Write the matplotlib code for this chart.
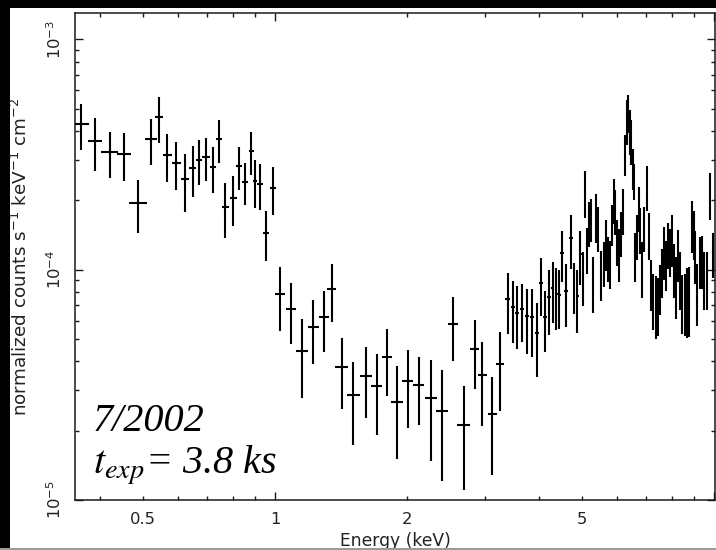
import matplotlib
matplotlib.use("Agg")
import matplotlib.pyplot as plt
from matplotlib.patches import Rectangle
from matplotlib.ticker import LogLocator, FixedLocator, NullFormatter
import numpy as np

# ---- spectrum: bin centre (keV), bin half-width (keV), flux, 1-sigma error ----
energy = [
    0.362, 0.389, 0.420, 0.453, 0.488, 0.522, 0.544, 0.5675, 0.595, 0.624,
    0.650, 0.671, 0.696, 0.722, 0.7455, 0.769, 0.802, 0.828, 0.8545, 0.882,
    0.900, 0.924, 0.954, 0.9895,
    1.027, 1.086, 1.152, 1.221, 1.293, 1.346, 1.419, 1.506, 1.611, 1.705,
    1.797, 1.896, 2.006, 2.123, 2.261, 2.401, 2.544, 2.688, 2.848, 2.962,
    3.121, 3.254,
    3.389, 3.479, 3.558, 3.652, 3.750, 3.843, 3.946, 4.036, 4.121, 4.209,
    4.292, 4.367, 4.436, 4.506, 4.602, 4.724, 4.799, 4.875, 4.953, 5.031,
    5.084, 5.137, 5.192, 5.246, 5.302, 5.386, 5.442, 5.528, 5.616, 5.675,
    5.735, 5.796, 5.857, 5.904, 5.950, 6.013, 6.076, 6.140, 6.204, 6.270,
    6.319, 6.369, 6.419, 6.469, 6.521, 6.556, 6.607, 6.677, 6.730, 6.783,
    6.855, 6.927, 7.038, 7.111, 7.186, 7.262, 7.377, 7.455, 7.534, 7.613,
    7.694, 7.775, 7.856, 7.940, 8.023, 8.108, 8.193, 8.279, 8.367, 8.455,
    8.589, 8.680, 8.772, 8.911, 8.981, 9.051, 9.147, 9.291, 9.390, 9.489,
    9.640, 9.792, 9.947,
]
energy_hw = [
    0.0145, 0.014, 0.019, 0.017, 0.023, 0.016, 0.0114, 0.0134, 0.014, 0.0137,
    0.0119, 0.012, 0.0128, 0.0121, 0.0117, 0.0141, 0.0147, 0.013, 0.0134, 0.0116,
    0.0109, 0.0136, 0.016, 0.0171,
    0.027, 0.0285, 0.036, 0.035, 0.034, 0.032, 0.048, 0.051, 0.051, 0.049,
    0.047, 0.055, 0.058, 0.061, 0.071, 0.076, 0.067, 0.085, 0.067, 0.070,
    0.074, 0.068,
    0.044, 0.040, 0.042, 0.046, 0.047, 0.045, 0.047, 0.043, 0.040, 0.041,
    0.038, 0.035, 0.035, 0.040, 0.050, 0.045, 0.035, 0.038, 0.040, 0.030,
    0.027, 0.027, 0.027, 0.030, 0.035, 0.035, 0.035, 0.040, 0.035, 0.030,
    0.030, 0.030, 0.025, 0.023, 0.025, 0.030, 0.030, 0.030, 0.030, 0.025,
    0.025, 0.025, 0.025, 0.025, 0.025, 0.025, 0.030, 0.030, 0.028, 0.030,
    0.035, 0.040, 0.040, 0.035, 0.035, 0.040, 0.040, 0.040, 0.040, 0.040,
    0.040, 0.040, 0.040, 0.040, 0.040, 0.045, 0.045, 0.045, 0.045, 0.050,
    0.050, 0.045, 0.045, 0.045, 0.040, 0.045, 0.060, 0.060, 0.050, 0.060,
    0.070, 0.060, 0.060,
]
flux = [
    4.28e-4, 3.61e-4, 3.23e-4, 3.17e-4, 1.94e-4, 3.68e-4, 4.59e-4, 3.14e-4, 2.90e-4, 2.47e-4,
    2.76e-4, 2.99e-4, 3.08e-4, 2.78e-4, 3.68e-4, 1.87e-4, 2.04e-4, 2.81e-4, 2.40e-4, 3.27e-4,
    2.42e-4, 2.35e-4, 1.44e-4, 2.26e-4,
    7.83e-5, 6.74e-5, 4.43e-5, 5.63e-5, 6.22e-5, 8.23e-5, 3.78e-5, 2.85e-5, 3.45e-5, 3.12e-5,
    4.17e-5, 2.66e-5, 3.28e-5, 3.15e-5, 2.77e-5, 2.43e-5, 5.80e-5, 2.11e-5, 4.52e-5, 3.48e-5,
    2.36e-5, 3.89e-5,
    7.45e-5, 6.88e-5, 6.48e-5, 6.74e-5, 6.28e-5, 6.22e-5, 5.30e-5, 8.74e-5, 6.22e-5, 7.60e-5,
    8.31e-5, 7.83e-5, 7.75e-5, 1.18e-4, 8.07e-5, 1.37e-4, 8.56e-5, 7.67e-5, 1.167e-4, 9.46e-5,
    2.17e-4, 1.24e-4, 1.61e-4, 1.67e-4, 8.92e-5, 1.72e-4, 1.53e-4, 9.65e-5, 1.078e-4, 1.32e-4,
    1.13e-4, 1.078e-4, 1.59e-4, 2.02e-4, 1.81e-4, 1.34e-4, 1.19e-4, 1.45e-4, 1.83e-4, 3.20e-4,
    4.45e-4, 4.83e-4, 4.03e-4, 3.64e-4, 2.78e-4, 2.44e-4, 1.167e-4, 1.41e-4, 1.87e-4, 1.51e-4,
    1.035e-4, 1.53e-4, 2.30e-4, 1.43e-4, 8.83e-5, 7.52e-5, 7.16e-5, 7.16e-5, 8.40e-5, 9.95e-5,
    1.215e-4, 1.067e-4, 1.30e-4, 1.215e-4, 1.38e-4, 1.025e-4, 8.74e-5, 1.18e-4, 9.28e-5, 7.37e-5,
    7.37e-5, 7.60e-5, 7.67e-5, 1.58e-4, 1.45e-4, 1.167e-4, 8.15e-5, 1.10e-4, 1.11e-4, 9.28e-5,
    9.28e-5, 2.13e-4, 1.18e-4,
]
flux_err = [
    0.97e-4, 0.92e-4, 0.72e-4, 0.75e-4, 0.50e-4, 0.83e-4, 1.03e-4, 0.75e-4, 0.68e-4, 0.70e-4,
    0.69e-4, 0.65e-4, 0.65e-4, 0.62e-4, 0.78e-4, 0.50e-4, 0.50e-4, 0.60e-4, 0.50e-4, 0.70e-4,
    0.56e-4, 0.53e-4, 0.35e-4, 0.54e-4,
    2.4e-5, 2.0e-5, 1.67e-5, 1.74e-5, 1.82e-5, 2.3e-5, 1.29e-5, 1.11e-5, 1.18e-5, 1.2e-5,
    1.34e-5, 1.15e-5, 1.22e-5, 1.04e-5, 1.3e-5, 1.22e-5, 1.8e-5, 1.0e-5, 1.5e-5, 1.38e-5,
    1.07e-5, 1.45e-5,
    2.19e-5, 2.09e-5, 1.97e-5, 1.91e-5, 1.98e-5, 2.03e-5, 1.89e-5, 2.48e-5, 1.83e-5, 2.39e-5,
    2.44e-5, 2.38e-5, 2.20e-5, 2.98e-5, 2.46e-5, 3.60e-5, 2.16e-5, 2.34e-5, 3.10e-5, 2.50e-5,
    5.0e-5, 2.8e-5, 3.6e-5, 3.5e-5, 2.45e-5, 4.2e-5, 3.4e-5, 2.35e-5, 2.4e-5, 3.3e-5,
    2.5e-5, 2.5e-5, 3.2e-5, 4.5e-5, 4.0e-5, 3.0e-5, 3.1e-5, 3.2e-5, 4.1e-5, 6.4e-5,
    9.9e-5, 9.0e-5, 9.0e-5, 8.0e-5, 5.6e-5, 4.4e-5, 2.8e-5, 3.1e-5, 4.2e-5, 3.4e-5,
    2.8e-5, 3.4e-5, 5.1e-5, 3.3e-5, 2.23e-5, 2.05e-5, 2.18e-5, 2.03e-5, 2.03e-5, 2.40e-5,
    3.1e-5, 2.6e-5, 2.9e-5, 2.9e-5, 3.5e-5, 2.7e-5, 2.66e-5, 3.0e-5, 2.63e-5, 2.09e-5,
    2.24e-5, 2.55e-5, 2.57e-5, 4.0e-5, 3.5e-5, 3.0e-5, 2.48e-5, 2.8e-5, 2.9e-5, 2.63e-5,
    2.63e-5, 4.9e-5, 2.6e-5,
]

x_tick_values = [0.5, 1, 2, 5]
x_tick_labels = ["0.5", "1", "2", "5"]
epoch_label = "7/2002"
exposure_label = "= 3.8 ks"

text_color = "#222222"

fig = plt.figure(figsize=(7.16, 5.50), dpi=100, facecolor="white")

# dark frame along the left and top edges, thin grey rule at the bottom
fig.patches.append(Rectangle((0, 0), 10 / 716, 1, transform=fig.transFigure,
                             facecolor="black", edgecolor="none", zorder=0))
fig.patches.append(Rectangle((0, 1 - 8 / 550), 1, 8 / 550, transform=fig.transFigure,
                             facecolor="black", edgecolor="none", zorder=0))
fig.patches.append(Rectangle((0, 0), 1, 2 / 550, transform=fig.transFigure,
                             facecolor="#9a9a9a", edgecolor="none", zorder=0))

ax = fig.add_axes([75 / 716, 50 / 550, 640 / 716, 487 / 550])
ax.set_xscale("log")
ax.set_yscale("log")
ax.set_xlim(0.35, 10.05)
ax.set_ylim(1e-5, 1.3e-3)

ax.errorbar(energy, flux, xerr=energy_hw, yerr=flux_err, fmt="none",
            ecolor="black", elinewidth=1.5, capsize=0, zorder=3)

for sp in ax.spines.values():
    sp.set_linewidth(1.1)
    sp.set_color("#1a1a1a")

# x ticks: decades are major, labelled 0.5 / 2 / 5 sit on the minor grid
ax.xaxis.set_major_locator(FixedLocator([1, 10]))
ax.xaxis.set_minor_locator(LogLocator(base=10, subs=np.arange(2, 10), numticks=20))
ax.xaxis.set_major_formatter(NullFormatter())
ax.xaxis.set_minor_formatter(NullFormatter())
for xv, lab in zip(x_tick_values, x_tick_labels):
    ax.text(xv, -0.024, lab, transform=ax.get_xaxis_transform(), ha="center", va="top",
            fontsize=11.8, color=text_color, family="DejaVu Sans")

ax.yaxis.set_major_locator(LogLocator(base=10, numticks=10))
ax.yaxis.set_minor_locator(LogLocator(base=10, subs=np.arange(2, 10), numticks=20))
ax.yaxis.set_minor_formatter(NullFormatter())

ax.tick_params(which="both", direction="in", top=True, right=True, width=1.0,
               color="#1a1a1a")
ax.tick_params(which="major", length=6.0)
ax.tick_params(which="minor", length=2.8)
ax.tick_params(axis="y", which="major", labelsize=11.8, labelcolor=text_color,
               pad=8, labelrotation=90)
for lab in ax.get_yticklabels():
    lab.set_verticalalignment("center")

ax.set_xlabel("Energy (keV)", fontsize=12.3, color=text_color)
ax.xaxis.set_label_coords(0.5, -0.066)
ax.set_ylabel(r"normalized counts s$^{-1}$ keV$^{-1}$ cm$^{-2}$", fontsize=13.2,
              color=text_color)
ax.yaxis.set_label_coords(-0.068, 0.5)

ax.text(0.028, 0.142, epoch_label, transform=ax.transAxes, fontsize=29,
        family="Liberation Serif", style="italic", color="black", ha="left",
        va="baseline")
ax.text(0.028, 0.055, r"$t_{exp}$" + exposure_label, transform=ax.transAxes,
        fontsize=29, family="Liberation Serif", style="italic", color="black",
        ha="left", va="baseline", math_fontfamily="stix")

fig.savefig("out.png", dpi=100, facecolor="white")
